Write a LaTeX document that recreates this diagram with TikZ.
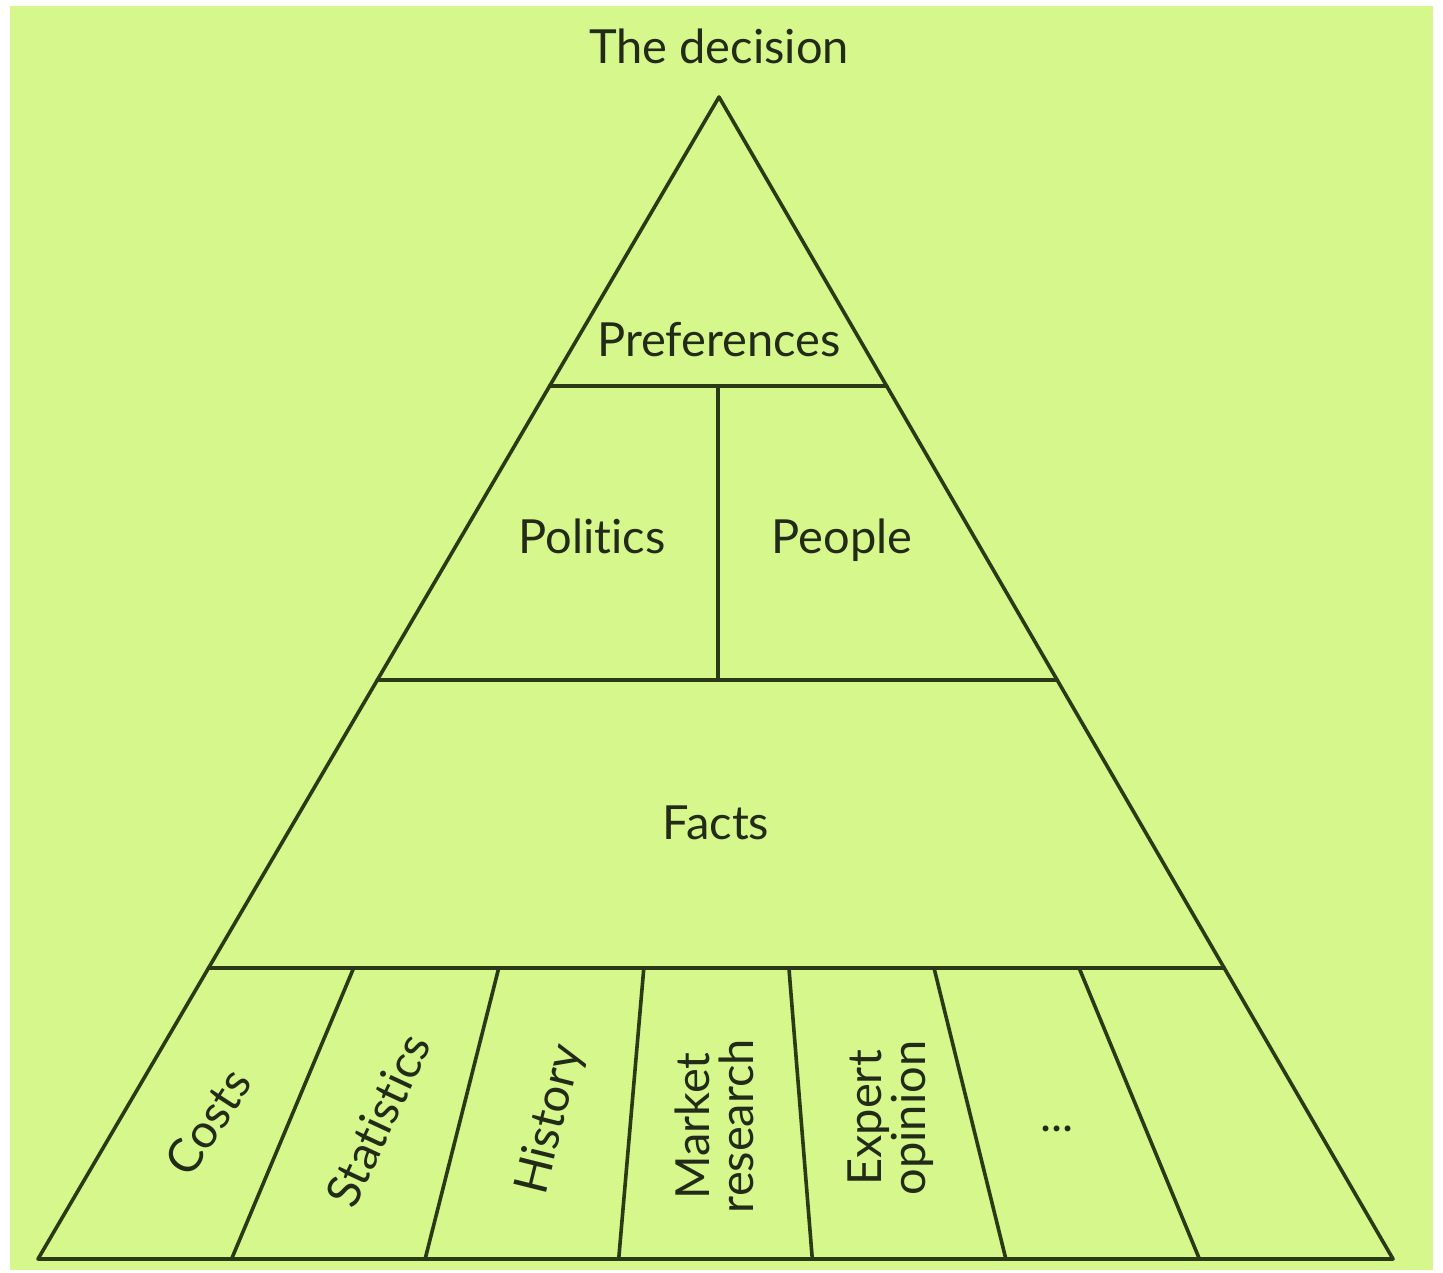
\documentclass[tikz,border=0pt]{standalone}
\usepackage{fontspec}
\setmainfont{Lato}[Ligatures=NoCommon]
\usetikzlibrary{calc}
\definecolor{bggreen}{RGB}{214,247,139}
\definecolor{inkline}{RGB}{42,58,22}
\definecolor{inktext}{RGB}{34,42,24}
\tikzset{
  edge/.style={draw=inkline, line width=1.8pt, line cap=round, line join=round},
  lbl/.style={text=inktext, font=\fontsize{23.5}{23.5}\selectfont, inner sep=0pt},
  lbl2/.style={lbl, align=center, font=\fontsize{23.5}{22}\selectfont}
}
\begin{document}
\begin{tikzpicture}[x=0.5pt,y=-0.5pt]
\useasboundingbox (0,0) rectangle (1443,1272);
\fill[white] (0,0) rectangle (1443,1272);
\fill[bggreen] (10,6) rectangle (1433,1270);
% main triangle
\coordinate (A) at (719,97);
\coordinate (BL) at (38,1259);
\coordinate (BR) at (1393,1259);
\draw[edge] (A) -- (BL) -- (BR) -- cycle;
% horizontal bands
\coordinate (p1) at ($(A)!0.2487!(BL)$);
\coordinate (p2) at ($(A)!0.2487!(BR)$);
\coordinate (q1) at ($(A)!0.5017!(BL)$);
\coordinate (q2) at ($(A)!0.5017!(BR)$);
\coordinate (f1) at ($(A)!0.7496!(BL)$);
\coordinate (f2) at ($(A)!0.7496!(BR)$);
\draw[edge] (p1) -- (p2);
\draw[edge] (q1) -- (q2);
\draw[edge] (f1) -- (f2);
\coordinate (v1) at (718,386);
\coordinate (v2) at (718,680);
\draw[edge] (v1) -- (v2);
% bottom dividers (radial from apex)
\foreach \k in {1,...,6}{
  \coordinate (d\k) at ($(BL)!\k/7!(BR)$);
  \coordinate (u\k) at ($(A)!0.7496!(d\k)$);
  \draw[edge] (u\k) -- (d\k);
}
% labels
\node[lbl, anchor=base] (decision) at (719,64) {The decision};
\node[lbl, anchor=base] (pref) at (719,357) {Preferences};
\node[lbl, anchor=base] (politics) at (592,553) {Politics};
\node[lbl, anchor=base] (people) at (842,553) {People};
\node[lbl, anchor=base] (facts) at (716,839) {Facts};
\node[lbl, rotate=57] (costs) at (208,1122) {Costs};
\node[lbl, rotate=65] (stats) at (378,1120) {Statistics};
\node[lbl, rotate=76] (hist) at (551,1120) {History};
\node[lbl2, rotate=90] (market) at (714,1126) {Market\\research};
\node[lbl2, rotate=90] (expert) at (891,1118) {Expert\\opinion};
\node[lbl, anchor=base] (dots) at (1057,1131) {...};
\end{tikzpicture}
\end{document}
